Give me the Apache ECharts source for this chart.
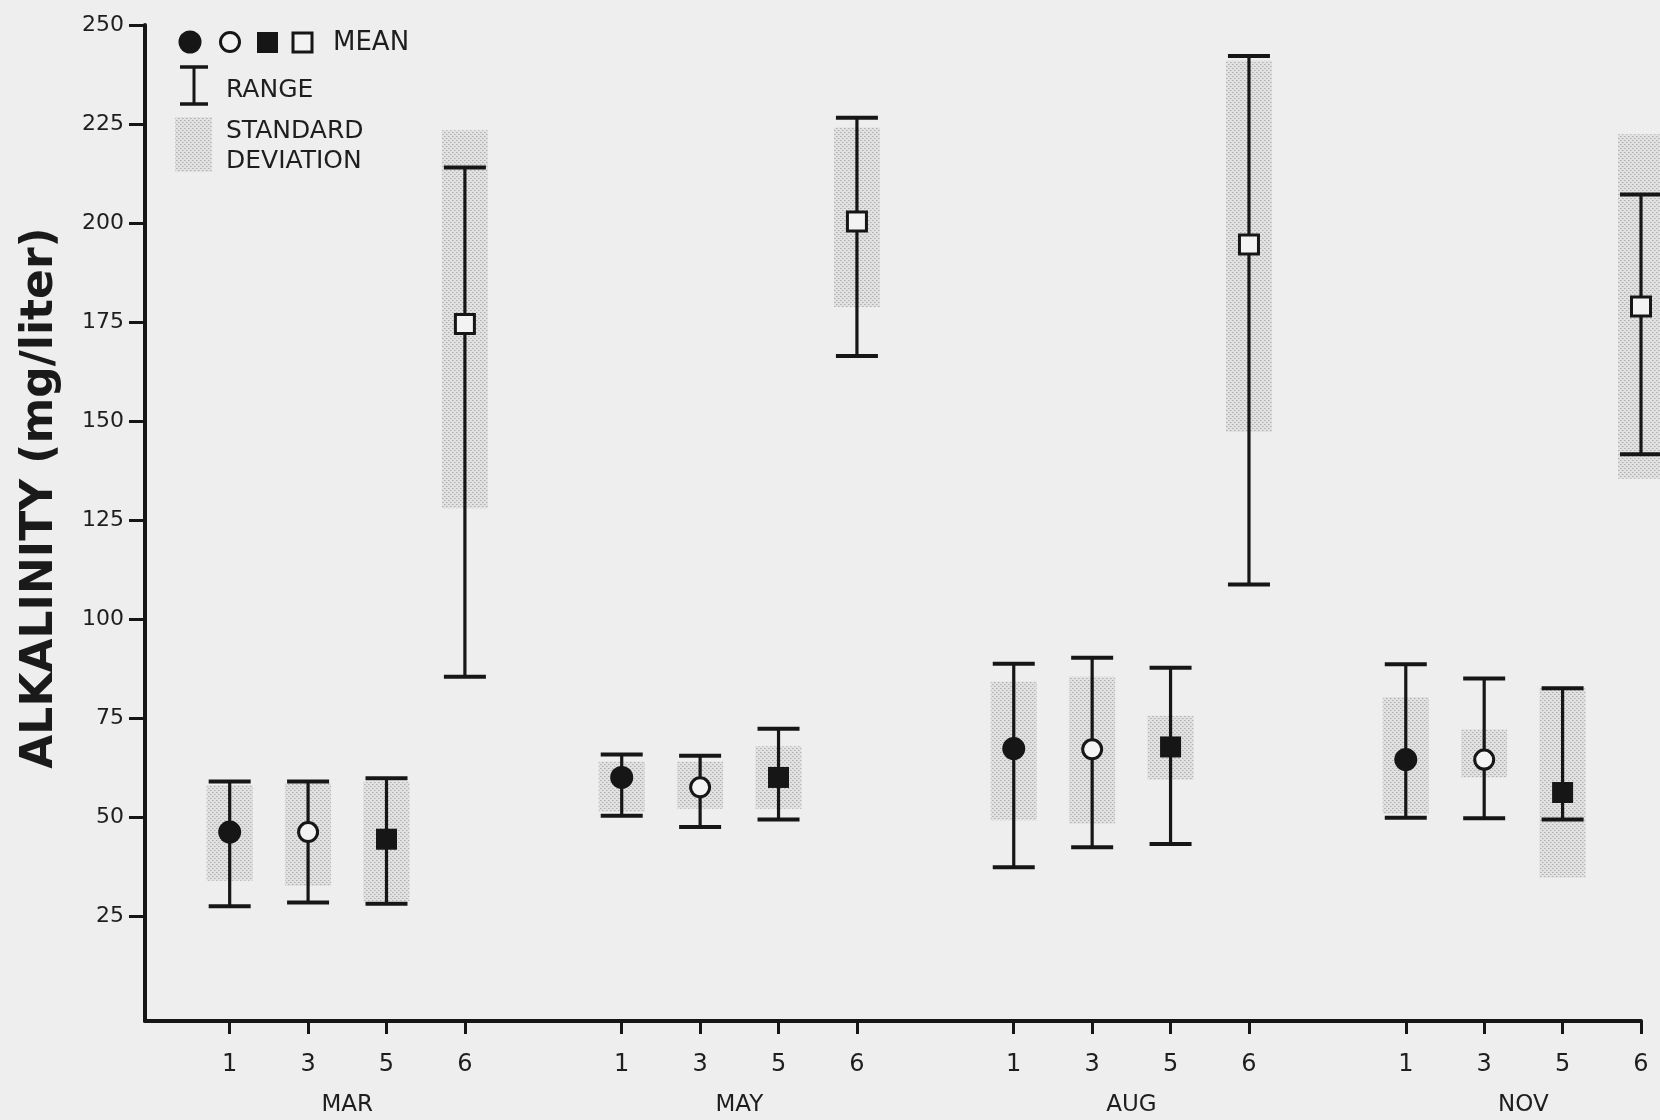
<!DOCTYPE html>
<html>
<head>
<meta charset="utf-8">
<script src="https://cdn.jsdelivr.net/npm/echarts@6/dist/echarts.min.js"></script>
<style>
  html, body { margin: 0; padding: 0; background: #eeeeee; }
  #chart { width: 1660px; height: 1120px; }
</style>
</head>
<body>
<div id="chart"></div>
<script>
// Sampling stations and survey months
const stations = ['1', '3', '5', '6'];
const months = ['MAR', 'MAY', 'AUG', 'NOV'];
const yTicks = [25, 50, 75, 100, 125, 150, 175, 200, 225, 250];

// Values ordered month by month, stations 1, 3, 5, 6 within each month
const means    = [46.2, 46.2, 44.4, 174.5,  60.0, 57.5, 60.0, 200.4,  67.3, 67.1, 67.7, 194.6,  64.5, 64.5, 56.2, 178.9];
const rangeMin = [27.5, 28.4, 28.1,  85.4,  50.3, 47.5, 49.4, 166.4,  37.3, 42.4, 43.2, 108.7,  49.8, 49.7, 49.4, 141.6];
const rangeMax = [59.0, 59.0, 59.8, 214.0,  65.8, 65.5, 72.3, 226.6,  88.7, 90.2, 87.7, 242.2,  88.6, 85.0, 82.5, 207.2];
const sdLow    = [33.9, 32.6, 28.8, 128.0,  51.3, 52.1, 52.1, 178.8,  49.2, 48.3, 59.4, 147.2,  50.8, 60.0, 34.7, 135.4];
const sdHigh   = [58.1, 58.6, 59.0, 223.4,  64.0, 64.0, 67.9, 224.1,  84.2, 85.4, 75.6, 241.0,  80.3, 72.2, 82.5, 222.4];

// Each month occupies four slots on the x axis followed by one empty slot
const slotOf = (m, s) => m * 5 + s;
const stationSlots = [];
months.forEach((_, m) => stations.forEach((_, s) => stationSlots.push(slotOf(m, s))));
const monthCenters = months.map((_, m) => slotOf(m, 0) + 1.5);

const INK = '#161616';
const PAPER = '#f3f3f3';
const FONT = 'DejaVu Sans';

// Halftone dot fill for the standard deviation bands
const dotCanvas = document.createElement('canvas');
dotCanvas.width = 4; dotCanvas.height = 4;
(function () {
  const c = dotCanvas.getContext('2d');
  c.fillStyle = '#e1e1e1'; c.fillRect(0, 0, 4, 4);
  c.fillStyle = '#b0b0b0';
  c.fillRect(0, 0, 1, 1); c.fillRect(2, 2, 1, 1);
  c.fillStyle = '#c6c6c6';
  c.fillRect(1, 0, 1, 1); c.fillRect(3, 2, 1, 1);
})();
const dotFill = { image: dotCanvas, repeat: 'repeat' };

const bandData = stationSlots.map((x, i) => [x, sdLow[i], sdHigh[i]]);
const rangeData = stationSlots.map((x, i) => [x, rangeMin[i], rangeMax[i]]);
const meanSeries = (s) => months.map((_, m) => {
  const i = m * 4 + s;
  return [stationSlots[i], means[i]];
});

const chart = echarts.init(document.getElementById('chart'), null, { renderer: 'canvas' });

chart.setOption({
  backgroundColor: '#eeeeee',
  animation: false,
  textStyle: { fontFamily: FONT },
  grid: { left: 145, right: 19, top: 25, bottom: 99, containLabel: false },
  xAxis: [
    {
      type: 'value', min: -1.08, max: 18,
      axisLine: { onZero: false, lineStyle: { color: INK, width: 4 } },
      splitLine: { show: false },
      axisTick: { customValues: stationSlots, length: 13, lineStyle: { color: INK, width: 3 } },
      axisLabel: {
        customValues: stationSlots, margin: 32, color: '#1e1e1e', fontSize: 24, fontFamily: FONT,
        formatter: v => stations[Math.round(v) % 5]
      }
    },
    {
      type: 'value', min: -1.08, max: 18, position: 'bottom',
      axisLine: { show: false }, axisTick: { show: false }, splitLine: { show: false },
      axisLabel: {
        customValues: monthCenters, margin: 73, color: '#1e1e1e', fontSize: 23, fontFamily: FONT,
        formatter: v => months[Math.floor(v / 5)]
      }
    }
  ],
  yAxis: {
    type: 'value', min: -1.5, max: 250,
    name: 'ALKALINITY (mg/liter)', nameLocation: 'middle', nameGap: 82, nameRotate: 90,
    nameTextStyle: { fontFamily: FONT, fontWeight: 'bold', fontSize: 44, color: '#1a1a1a', padding: [0, 0, 0, 50] },
    axisLine: { show: true, onZero: false, lineStyle: { color: INK, width: 4 } },
    splitLine: { show: false },
    axisTick: { customValues: yTicks, length: 16, lineStyle: { color: INK, width: 3 } },
    axisLabel: { customValues: yTicks, margin: 21, color: '#1e1e1e', fontSize: 22, fontFamily: FONT }
  },
  series: [
    {
      name: 'STANDARD DEVIATION', type: 'custom', z: 1,
      data: bandData,
      renderItem: (params, api) => {
        const x = api.value(0);
        const top = api.coord([x, api.value(2)]);
        const bot = api.coord([x, api.value(1)]);
        return { type: 'rect', shape: { x: top[0] - 23, y: top[1], width: 46, height: bot[1] - top[1] }, style: { fill: dotFill } };
      }
    },
    {
      name: 'RANGE', type: 'custom', z: 2,
      data: rangeData,
      renderItem: (params, api) => {
        const x = api.value(0);
        const hi = api.coord([x, api.value(2)]);
        const lo = api.coord([x, api.value(1)]);
        const w = 21;
        const st = { stroke: INK, lineWidth: 3.2 };
        return {
          type: 'group',
          children: [
            { type: 'line', shape: { x1: hi[0], y1: hi[1], x2: lo[0], y2: lo[1] }, style: st },
            { type: 'line', shape: { x1: hi[0] - w, y1: hi[1], x2: hi[0] + w, y2: hi[1] }, style: { stroke: INK, lineWidth: 4 } },
            { type: 'line', shape: { x1: lo[0] - w, y1: lo[1], x2: lo[0] + w, y2: lo[1] }, style: { stroke: INK, lineWidth: 4 } }
          ]
        };
      }
    },
    { name: 'Station 1', type: 'scatter', z: 3, data: meanSeries(0), symbol: 'circle', symbolSize: 23,
      itemStyle: { color: INK, opacity: 1 } },
    { name: 'Station 3', type: 'scatter', z: 3, data: meanSeries(1), symbol: 'circle', symbolSize: 19,
      itemStyle: { color: PAPER, borderColor: INK, borderWidth: 3, opacity: 1 } },
    { name: 'Station 5', type: 'scatter', z: 3, data: meanSeries(2), symbol: 'rect', symbolSize: 21,
      itemStyle: { color: INK, opacity: 1 } },
    { name: 'Station 6', type: 'scatter', z: 3, data: meanSeries(3), symbol: 'rect', symbolSize: 19,
      itemStyle: { color: PAPER, borderColor: INK, borderWidth: 3, opacity: 1 } }
  ],
  graphic: [
    // Key: mean symbols
    { type: 'circle', shape: { cx: 190, cy: 42, r: 11.5 }, style: { fill: INK } },
    { type: 'circle', shape: { cx: 230, cy: 42, r: 9.5 }, style: { fill: PAPER, stroke: INK, lineWidth: 3 } },
    { type: 'rect', shape: { x: 257, y: 32, width: 21, height: 21 }, style: { fill: INK } },
    { type: 'rect', shape: { x: 293, y: 33, width: 19, height: 19 }, style: { fill: PAPER, stroke: INK, lineWidth: 3 } },
    { type: 'text', left: 333, top: 30, style: { text: 'MEAN', font: '26px "DejaVu Sans"', fill: '#1e1e1e' } },
    // Key: range bar
    { type: 'line', shape: { x1: 194, y1: 67, x2: 194, y2: 104 }, style: { stroke: INK, lineWidth: 3 } },
    { type: 'line', shape: { x1: 180, y1: 67, x2: 208, y2: 67 }, style: { stroke: INK, lineWidth: 3.5 } },
    { type: 'line', shape: { x1: 180, y1: 104, x2: 208, y2: 104 }, style: { stroke: INK, lineWidth: 3.5 } },
    { type: 'text', left: 226, top: 78, style: { text: 'RANGE', font: '25px "DejaVu Sans"', fill: '#1e1e1e' } },
    // Key: standard deviation band
    { type: 'rect', shape: { x: 175, y: 117, width: 37, height: 55 }, style: { fill: dotFill } },
    { type: 'text', left: 226, top: 119, style: { text: 'STANDARD', font: '25px "DejaVu Sans"', fill: '#1e1e1e' } },
    { type: 'text', left: 226, top: 149, style: { text: 'DEVIATION', font: '25px "DejaVu Sans"', fill: '#1e1e1e' } }
  ]
});
</script>
</body>
</html>
